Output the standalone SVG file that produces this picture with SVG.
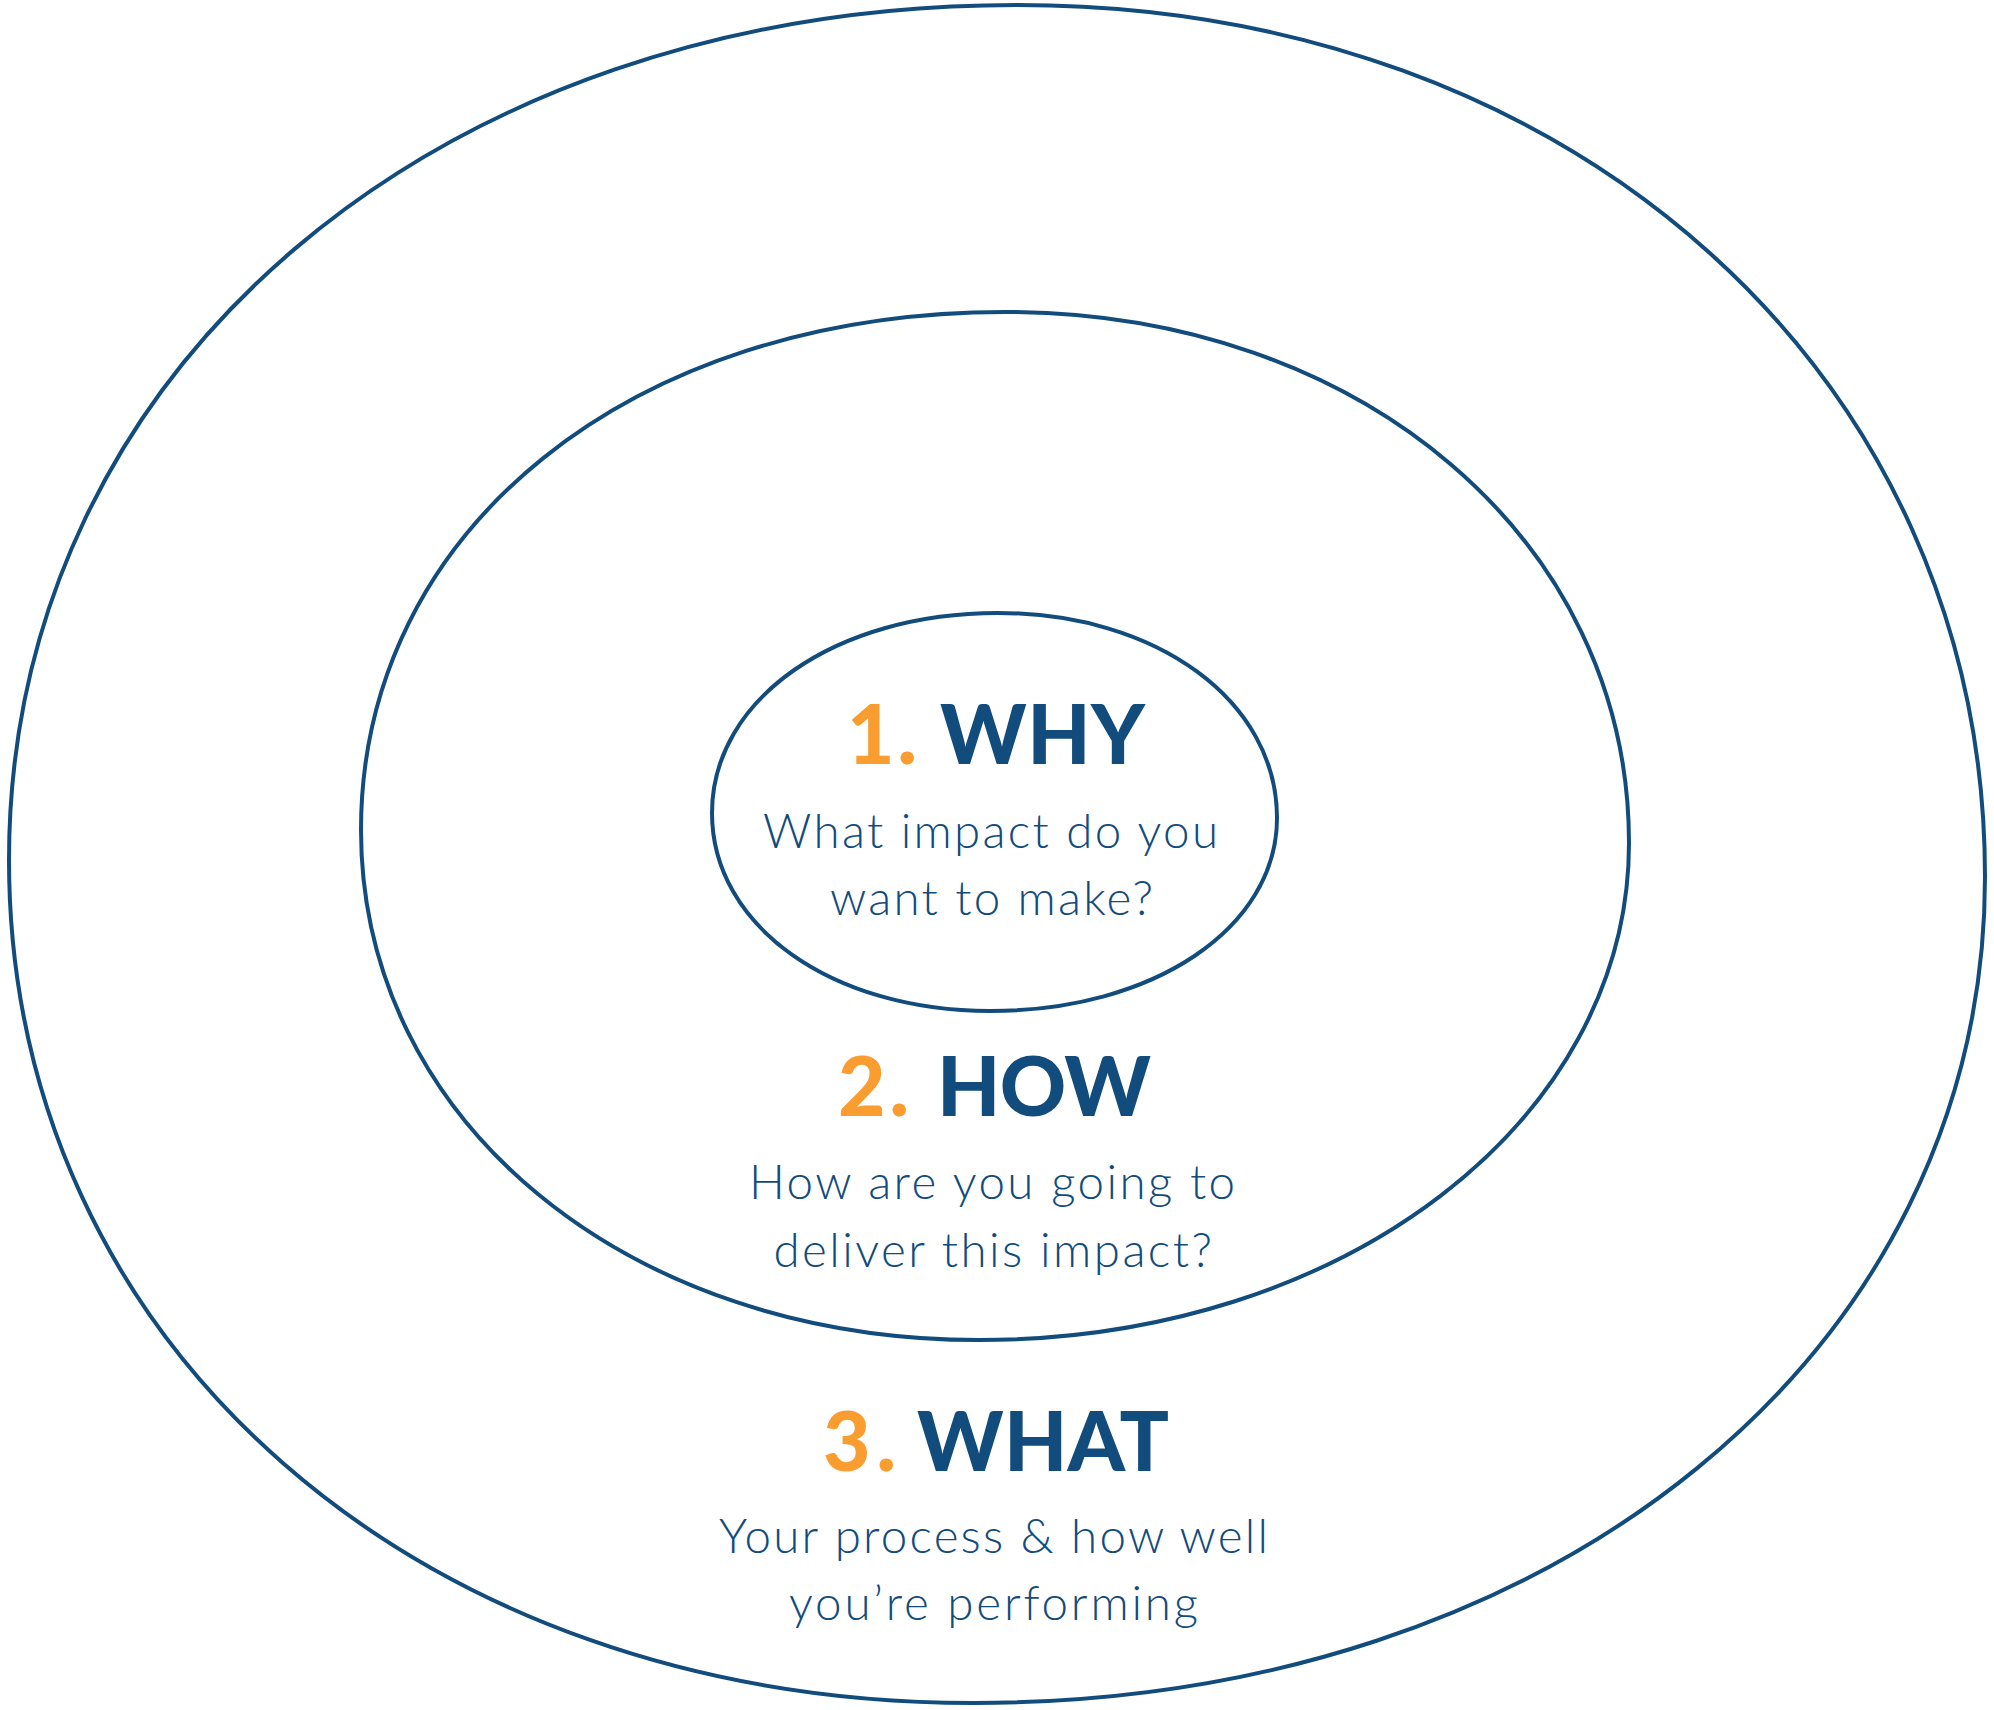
<svg xmlns="http://www.w3.org/2000/svg" width="1994" height="1710" viewBox="0 0 1994 1710">
  <style>
    .ring { fill: none; stroke: #124c7c; stroke-width: 4; }
    .num { font-family: Lato, "Liberation Sans", sans-serif; font-weight: 900; font-size: 82px; fill: #f99d31; }
    .word { font-family: Lato, "Liberation Sans", sans-serif; font-weight: 900; font-size: 82px; fill: #124c7c; }
    .body { font-family: Lato, "Liberation Sans", sans-serif; font-weight: 300; font-size: 47.5px; fill: #124c7c; text-anchor: middle; }
  </style>
  <rect width="1994" height="1710" fill="#ffffff"/>
  <g id="what">
    <path class="ring" d="M1017,5 C1573.6,5 1985,375.6 1985,877 C1985,1352 1554.9,1703 973,1703 C418.7,1703 9,1344.7 9,860 C9,368.4 437.4,5 1017,5 Z"/>
    <text class="num" x="823" y="1471" textLength="73">3.</text>
    <text class="word" x="917" y="1471" textLength="252">WHAT</text>
    <text class="body" x="993.5" y="1553" textLength="549">Your process &amp; how well</text>
    <text class="body" x="993.5" y="1619.5" textLength="409">you’re performing</text>
  </g>
  <g id="how">
    <path class="ring" d="M1005,312 C1360.7,312 1629,540.3 1629,843 C1629,1121.3 1343,1340 979,1340 C626.7,1340 361,1120.7 361,830 C361,529.6 631.5,312 1005,312 Z"/>
    <text class="num" x="838" y="1116" textLength="71">2.</text>
    <text class="word" x="937" y="1116" textLength="214">HOW</text>
    <text class="body" x="992" y="1199" textLength="486">How are you going to</text>
    <text class="body" x="992.7" y="1266.7" textLength="438.5">deliver this impact?</text>
  </g>
  <g id="why">
    <path class="ring" d="M998,613 C1157,613 1277,701.1 1277,818 C1277,928 1153.6,1011 990,1011 C831.5,1011 712,925.9 712,813 C712,699 835,613 998,613 Z"/>
    <text class="num" x="847" y="764" textLength="70">1.</text>
    <text class="word" x="940" y="764" textLength="205">WHY</text>
    <text class="body" x="990.5" y="848" textLength="455">What impact do you</text>
    <text class="body" x="991.5" y="915" textLength="323">want to make?</text>
  </g>
  <g id="connectors"/>
</svg>
